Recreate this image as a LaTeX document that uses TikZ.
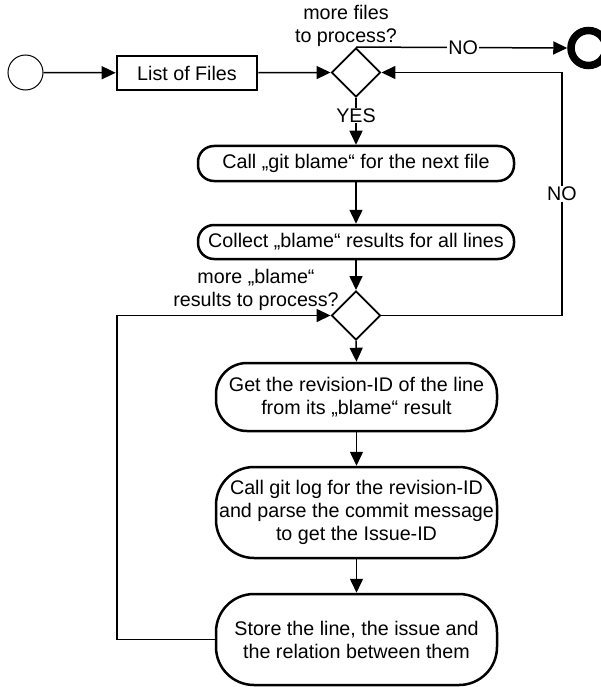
\documentclass[tikz,border=0pt]{standalone}
\usepackage{fontspec}
\setmainfont{Liberation Sans}
\usetikzlibrary{shapes.geometric,arrows.meta}
\tikzset{
  txt/.style={font=\fontsize{19.7}{23}\selectfont, inner sep=0pt, align=center},
  conn/.style={line width=1.5pt, -{Triangle[length=14pt,width=13pt]}},
  act/.style={draw, line width=2.5pt, txt, minimum width=316pt},
  bigact/.style={draw, line width=2.5pt, txt, minimum width=281pt},
  dec/.style={draw, diamond, aspect=1, line width=1.9pt, minimum width=49pt, minimum height=49pt, inner sep=0pt},
  lbl/.style={txt, fill=white, inner sep=1pt}
}
\begin{document}
\begin{tikzpicture}[x=1pt,y=-1pt]
\useasboundingbox (0,0) rectangle (601,687);
\node[draw, circle, line width=1pt, minimum size=35pt, inner sep=0pt] (start) at (25.5,72.5) {};
\node[draw, line width=2.7pt, txt, minimum width=140pt, minimum height=34pt] (files) at (187,73) {List of Files};
\node[dec] (d1) at (356,72.5) {};
\node[draw, circle, line width=7.5pt, minimum size=35pt, inner sep=0pt] (end) at (588.5,48) {};
\node[txt] (q1) at (346,26) {more files\\to process?};
\node[act, rounded corners=16pt, minimum height=35pt] (b1) at (356,163.5) {Call „git blame“ for the next file};
\node[act, rounded corners=16pt, minimum height=34pt] (b2) at (356,242) {Collect „blame“ results for all lines};
\node[dec] (d2) at (356,315.5) {};
\node[txt] (q2) at (256,290) {more „blame“\\results to process?};
\node[bigact, rounded corners=31pt, minimum height=68pt] (b3) at (356.5,397) {Get the revision-ID of the line\\from its „blame“ result};
\node[bigact, rounded corners=38pt, minimum height=91pt] (b4) at (356.5,512.5) {Call git log for the revision-ID\\and parse the commit message\\to get the Issue-ID};
\node[bigact, rounded corners=38pt, minimum height=91pt] (b5) at (356.5,639.5) {Store the line, the issue and\\the relation between them};
\coordinate (r1) at (562,315.5);
\coordinate (r2) at (562,72.5);
\coordinate (l1) at (117,639.5);
\coordinate (l2) at (117,315.5);

\draw[conn] (start) -- (files);
\draw[conn] (files) -- (d1.west);
\draw[conn] (d1.north) -- node[lbl, pos=0.507] {NO} (end.west);
\draw[conn] (d1.south) -- node[lbl, pos=0.375] {YES} (b1.north);
\draw[conn] (b1) -- (b2);
\draw[conn] (b2) -- (d2.north);
\draw[conn] (d2.south) -- (b3.north);
\draw[conn] (b3) -- (b4);
\draw[conn] (b4) -- (b5);
\draw[conn] (d2.east) -- (r1) -- node[lbl, pos=0.5] {NO} (r2) -- (d1.east);
\draw[conn] (b5.west) -- (l1) -- (l2) -- (d2.west);
\end{tikzpicture}
\end{document}
